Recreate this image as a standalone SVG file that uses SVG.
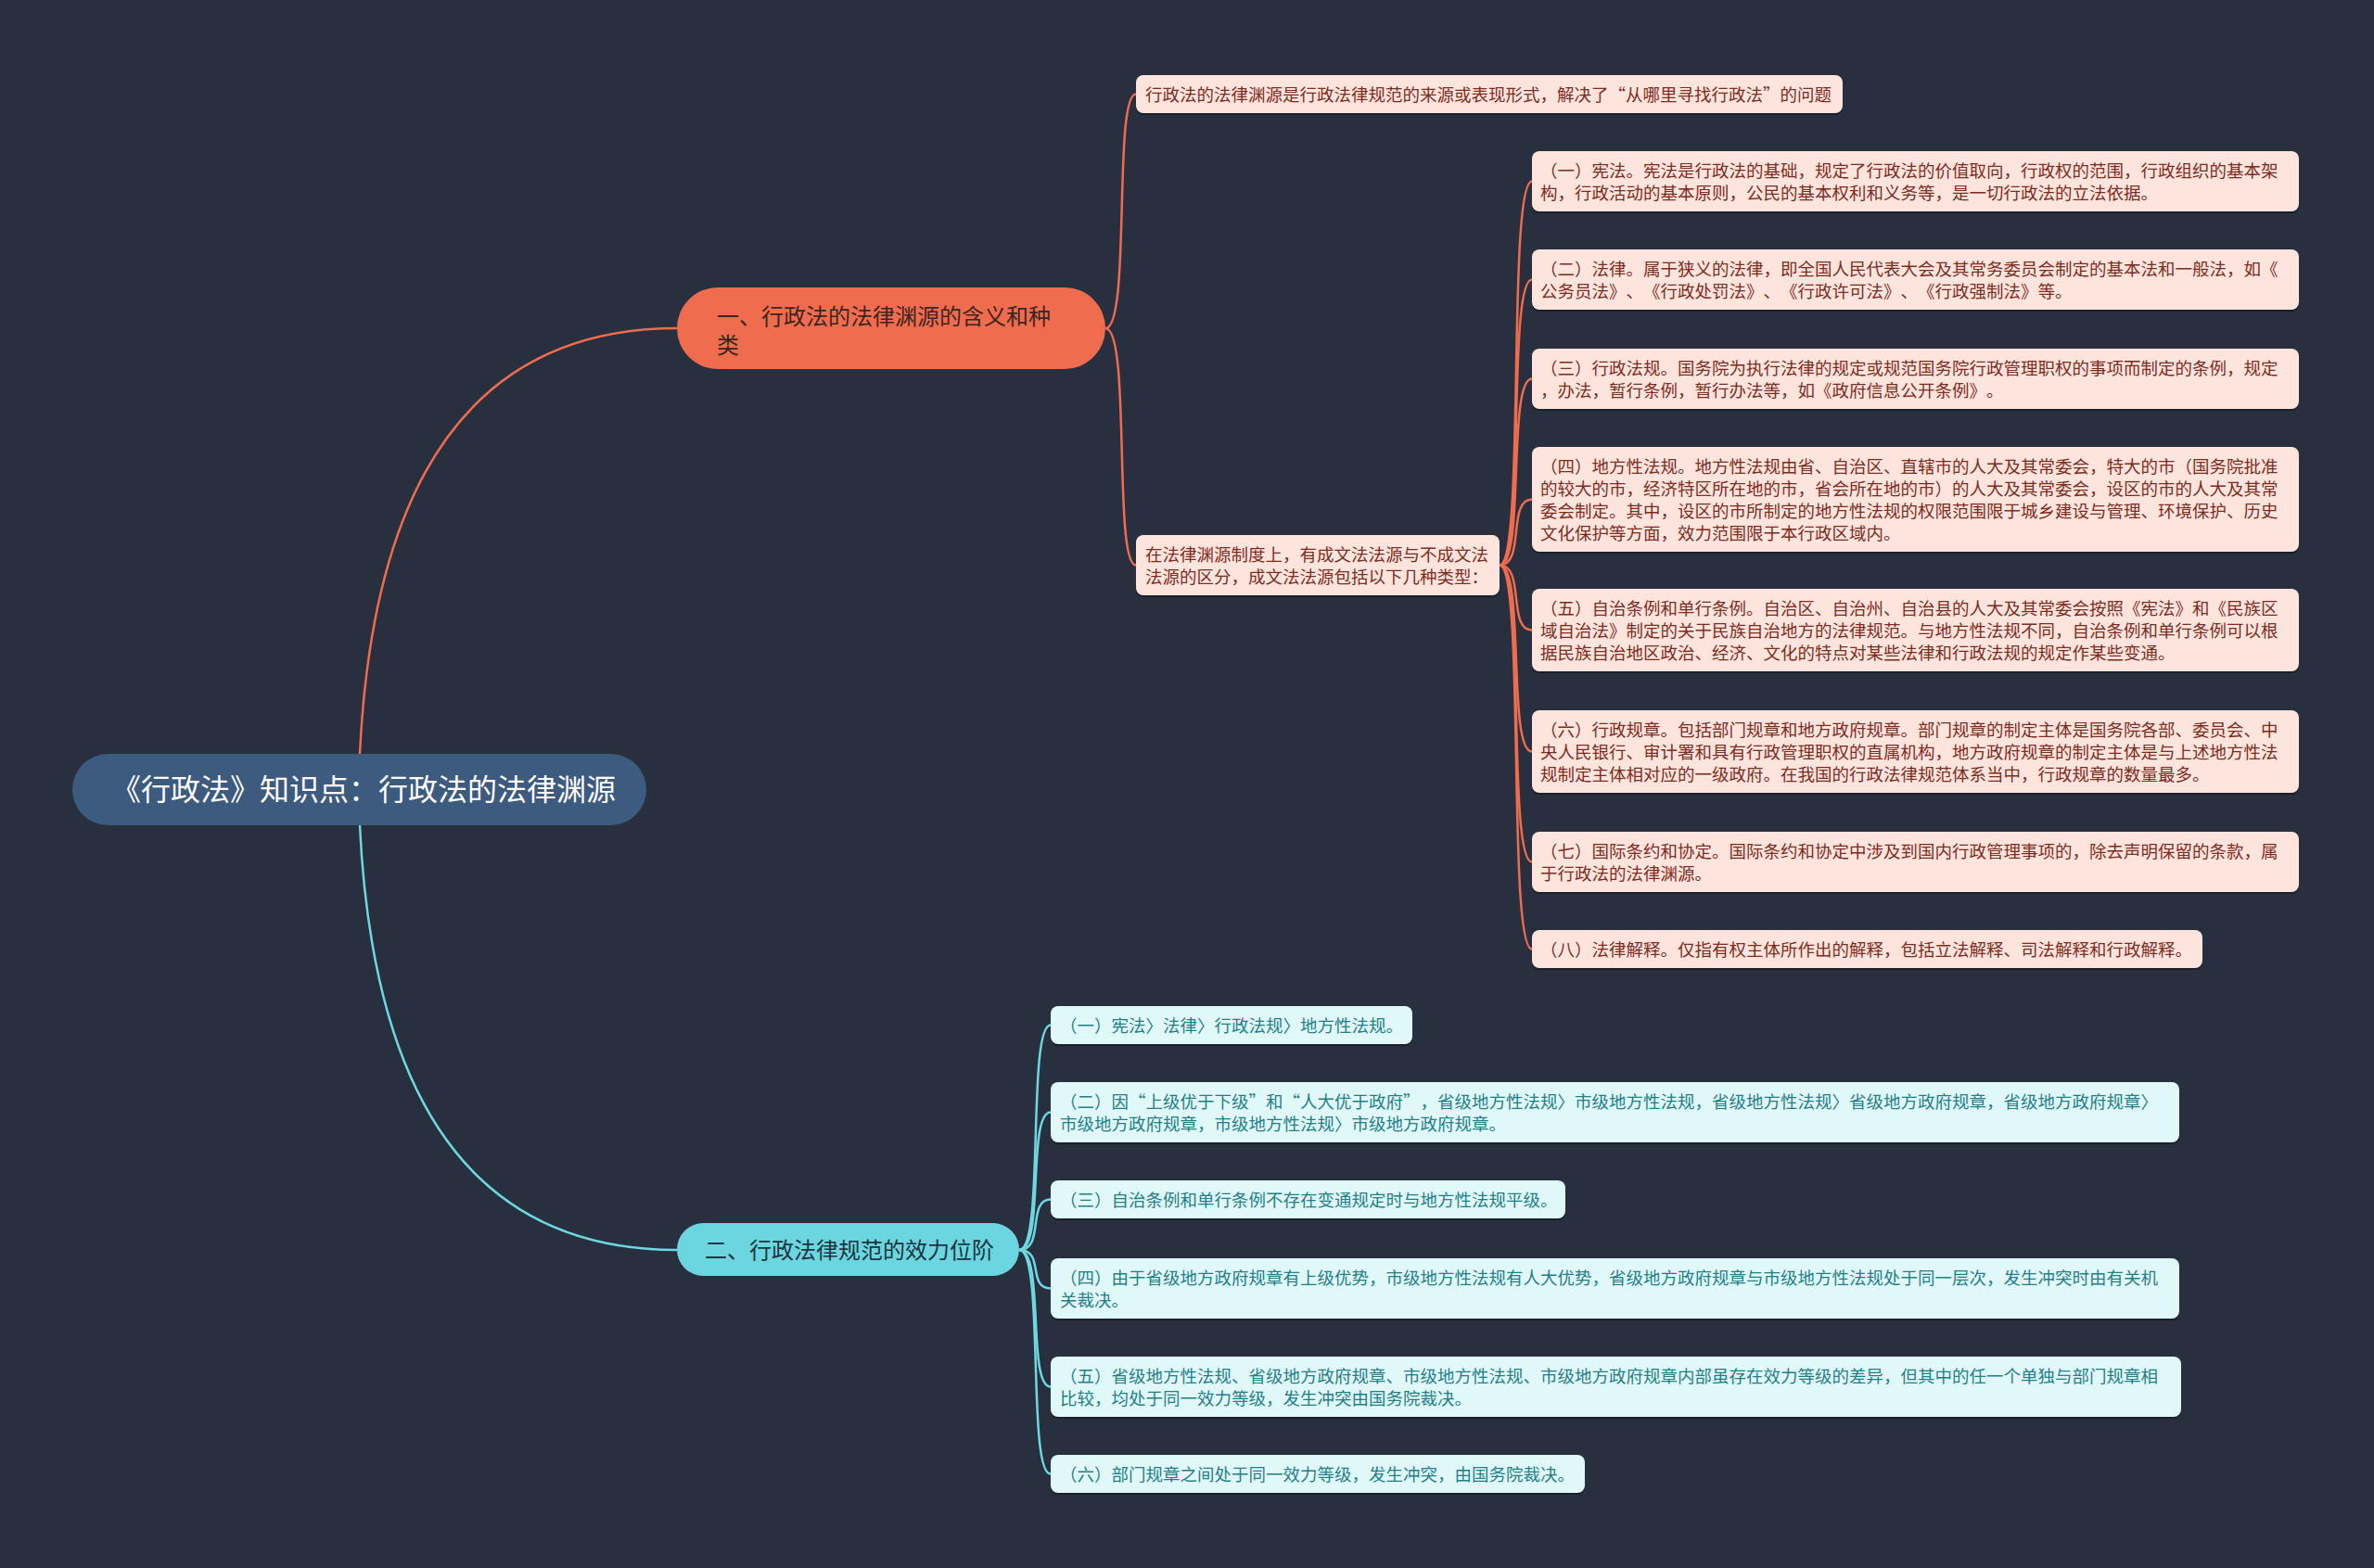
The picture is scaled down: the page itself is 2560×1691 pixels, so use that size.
<svg xmlns="http://www.w3.org/2000/svg" width="2560" height="1691" viewBox="0 0 2560 1691">
<style>
text{font-family:"Noto Sans CJK SC","Noto Sans",sans-serif;text-spacing-trim:space-all;}
.bg{fill:#282f3e;}
.c1{fill:none;stroke:#ef6c4e;stroke-width:2.5;}
.c2{fill:none;stroke:#6dd8e1;stroke-width:2.5;}
.sh{fill:#1a1f29;}
.l1{fill:#fde4dd;}
.l2{fill:#e1f8f9;}
.t1{font-size:18.5px;fill:#7d2c1e;}
.t2{font-size:18.5px;fill:#1f8088;}
</style>
<rect class="bg" x="0" y="0" width="2560" height="1691"/>
<g id="connectors">
<path class="c1" d="M388,813 Q410,354 730,354"/>
<path class="c2" d="M388,890 Q410,1348 730,1348"/>
<path class="c1" d="M1192,354 C1220,354 1200,101.5 1225,101.5"/>
<path class="c1" d="M1192,354 C1220,354 1200,609.5 1225,609.5"/>
<path class="c1" d="M1617,609.5 C1645,609.5 1625,195.5 1652,195.5"/>
<path class="c1" d="M1617,609.5 C1645,609.5 1625,301.5 1652,301.5"/>
<path class="c1" d="M1617,609.5 C1645,609.5 1625,408.5 1652,408.5"/>
<path class="c1" d="M1617,609.5 C1645,609.5 1625,538.5 1652,538.5"/>
<path class="c1" d="M1617,609.5 C1645,609.5 1625,679.5 1652,679.5"/>
<path class="c1" d="M1617,609.5 C1645,609.5 1625,810.5 1652,810.5"/>
<path class="c1" d="M1617,609.5 C1645,609.5 1625,929.5 1652,929.5"/>
<path class="c1" d="M1617,609.5 C1645,609.5 1625,1023.5 1652,1023.5"/>
<path class="c2" d="M1099,1348 C1127,1348 1107,1105.5 1133,1105.5"/>
<path class="c2" d="M1099,1348 C1127,1348 1107,1199.5 1133,1199.5"/>
<path class="c2" d="M1099,1348 C1127,1348 1107,1293.5 1133,1293.5"/>
<path class="c2" d="M1099,1348 C1127,1348 1107,1389.5 1133,1389.5"/>
<path class="c2" d="M1099,1348 C1127,1348 1107,1495.5 1133,1495.5"/>
<path class="c2" d="M1099,1348 C1127,1348 1107,1589.5 1133,1589.5"/>
</g>
<g id="root">
<rect x="78" y="813" width="619" height="77" rx="38.5" fill="#3d5a7f"/>
<text x="392" y="863" font-size="32" fill="#ffffff" text-anchor="middle">《行政法》知识点：行政法的法律渊源</text>
</g>
<g id="branch1">
<rect x="730" y="310" width="462" height="88" rx="44" fill="#ef6c4e"/>
<text x="773" y="350" font-size="24" fill="#3d2520">一、行政法的法律渊源的含义和种</text>
<text x="773" y="381" font-size="24" fill="#3d2520">类</text>
</g>
<g id="branch2">
<rect x="730" y="1319" width="369" height="57" rx="28.5" fill="#6bd6e0"/>
<text x="760" y="1357" font-size="24" fill="#1d3440">二、行政法律规范的效力位阶</text>
</g>
<g id="leafA">
<rect class="sh" x="1225" y="83" width="762" height="41" rx="8"/>
<rect class="l1" x="1225" y="81" width="762" height="41" rx="8"/>
<text class="t1" x="1235" y="109">行政法的法律渊源是行政法律规范的来源或表现形式，解决了“从哪里寻找行政法”的问题</text>
</g>
<g id="middle">
<rect class="sh" x="1225" y="579" width="392" height="65" rx="8"/>
<rect class="l1" x="1225" y="577" width="392" height="65" rx="8"/>
<text class="t1" x="1235" y="605">在法律渊源制度上，有成文法法源与不成文法</text>
<text class="t1" x="1235" y="629">法源的区分，成文法法源包括以下几种类型：</text>
</g>
<g id="s1">
<rect class="sh" x="1652" y="165" width="827" height="65" rx="8"/>
<rect class="l1" x="1652" y="163" width="827" height="65" rx="8"/>
<text class="t1" x="1661" y="191">（一）宪法。宪法是行政法的基础，规定了行政法的价值取向，行政权的范围，行政组织的基本架</text>
<text class="t1" x="1661" y="215">构，行政活动的基本原则，公民的基本权利和义务等，是一切行政法的立法依据。</text>
</g>
<g id="s2">
<rect class="sh" x="1652" y="271" width="827" height="65" rx="8"/>
<rect class="l1" x="1652" y="269" width="827" height="65" rx="8"/>
<text class="t1" x="1661" y="297">（二）法律。属于狭义的法律，即全国人民代表大会及其常务委员会制定的基本法和一般法，如《</text>
<text class="t1" x="1661" y="321">公务员法》、《行政处罚法》、《行政许可法》、《行政强制法》等。</text>
</g>
<g id="s3">
<rect class="sh" x="1652" y="378" width="827" height="65" rx="8"/>
<rect class="l1" x="1652" y="376" width="827" height="65" rx="8"/>
<text class="t1" x="1661" y="404">（三）行政法规。国务院为执行法律的规定或规范国务院行政管理职权的事项而制定的条例，规定</text>
<text class="t1" x="1661" y="428">，办法，暂行条例，暂行办法等，如《政府信息公开条例》。</text>
</g>
<g id="s4">
<rect class="sh" x="1652" y="484" width="827" height="113" rx="8"/>
<rect class="l1" x="1652" y="482" width="827" height="113" rx="8"/>
<text class="t1" x="1661" y="510">（四）地方性法规。地方性法规由省、自治区、直辖市的人大及其常委会，特大的市（国务院批准</text>
<text class="t1" x="1661" y="534">的较大的市，经济特区所在地的市，省会所在地的市）的人大及其常委会，设区的市的人大及其常</text>
<text class="t1" x="1661" y="558">委会制定。其中，设区的市所制定的地方性法规的权限范围限于城乡建设与管理、环境保护、历史</text>
<text class="t1" x="1661" y="582">文化保护等方面，效力范围限于本行政区域内。</text>
</g>
<g id="s5">
<rect class="sh" x="1652" y="637" width="827" height="89" rx="8"/>
<rect class="l1" x="1652" y="635" width="827" height="89" rx="8"/>
<text class="t1" x="1661" y="663">（五）自治条例和单行条例。自治区、自治州、自治县的人大及其常委会按照《宪法》和《民族区</text>
<text class="t1" x="1661" y="687">域自治法》制定的关于民族自治地方的法律规范。与地方性法规不同，自治条例和单行条例可以根</text>
<text class="t1" x="1661" y="711">据民族自治地区政治、经济、文化的特点对某些法律和行政法规的规定作某些变通。</text>
</g>
<g id="s6">
<rect class="sh" x="1652" y="768" width="827" height="89" rx="8"/>
<rect class="l1" x="1652" y="766" width="827" height="89" rx="8"/>
<text class="t1" x="1661" y="794">（六）行政规章。包括部门规章和地方政府规章。部门规章的制定主体是国务院各部、委员会、中</text>
<text class="t1" x="1661" y="818">央人民银行、审计署和具有行政管理职权的直属机构，地方政府规章的制定主体是与上述地方性法</text>
<text class="t1" x="1661" y="842">规制定主体相对应的一级政府。在我国的行政法律规范体系当中，行政规章的数量最多。</text>
</g>
<g id="s7">
<rect class="sh" x="1652" y="899" width="827" height="65" rx="8"/>
<rect class="l1" x="1652" y="897" width="827" height="65" rx="8"/>
<text class="t1" x="1661" y="925">（七）国际条约和协定。国际条约和协定中涉及到国内行政管理事项的，除去声明保留的条款，属</text>
<text class="t1" x="1661" y="949">于行政法的法律渊源。</text>
</g>
<g id="s8">
<rect class="sh" x="1652" y="1005" width="723" height="41" rx="8"/>
<rect class="l1" x="1652" y="1003" width="723" height="41" rx="8"/>
<text class="t1" x="1661" y="1031">（八）法律解释。仅指有权主体所作出的解释，包括立法解释、司法解释和行政解释。</text>
</g>
<g id="e1">
<rect class="sh" x="1133" y="1087" width="390" height="41" rx="8"/>
<rect class="l2" x="1133" y="1085" width="390" height="41" rx="8"/>
<text class="t2" x="1143" y="1113">（一）宪法〉法律〉行政法规〉地方性法规。</text>
</g>
<g id="e2">
<rect class="sh" x="1133" y="1169" width="1217" height="65" rx="8"/>
<rect class="l2" x="1133" y="1167" width="1217" height="65" rx="8"/>
<text class="t2" x="1143" y="1195">（二）因“上级优于下级”和“人大优于政府”，省级地方性法规〉市级地方性法规，省级地方性法规〉省级地方政府规章，省级地方政府规章〉</text>
<text class="t2" x="1143" y="1219">市级地方政府规章，市级地方性法规〉市级地方政府规章。</text>
</g>
<g id="e3">
<rect class="sh" x="1133" y="1275" width="555" height="41" rx="8"/>
<rect class="l2" x="1133" y="1273" width="555" height="41" rx="8"/>
<text class="t2" x="1143" y="1301">（三）自治条例和单行条例不存在变通规定时与地方性法规平级。</text>
</g>
<g id="e4">
<rect class="sh" x="1133" y="1359" width="1217" height="65" rx="8"/>
<rect class="l2" x="1133" y="1357" width="1217" height="65" rx="8"/>
<text class="t2" x="1143" y="1385">（四）由于省级地方政府规章有上级优势，市级地方性法规有人大优势，省级地方政府规章与市级地方性法规处于同一层次，发生冲突时由有关机</text>
<text class="t2" x="1143" y="1409">关裁决。</text>
</g>
<g id="e5">
<rect class="sh" x="1133" y="1465" width="1219" height="65" rx="8"/>
<rect class="l2" x="1133" y="1463" width="1219" height="65" rx="8"/>
<text class="t2" x="1143" y="1491">（五）省级地方性法规、省级地方政府规章、市级地方性法规、市级地方政府规章内部虽存在效力等级的差异，但其中的任一个单独与部门规章相</text>
<text class="t2" x="1143" y="1515">比较，均处于同一效力等级，发生冲突由国务院裁决。</text>
</g>
<g id="e6">
<rect class="sh" x="1133" y="1571" width="576" height="41" rx="8"/>
<rect class="l2" x="1133" y="1569" width="576" height="41" rx="8"/>
<text class="t2" x="1143" y="1597">（六）部门规章之间处于同一效力等级，发生冲突，由国务院裁决。</text>
</g>
</svg>
